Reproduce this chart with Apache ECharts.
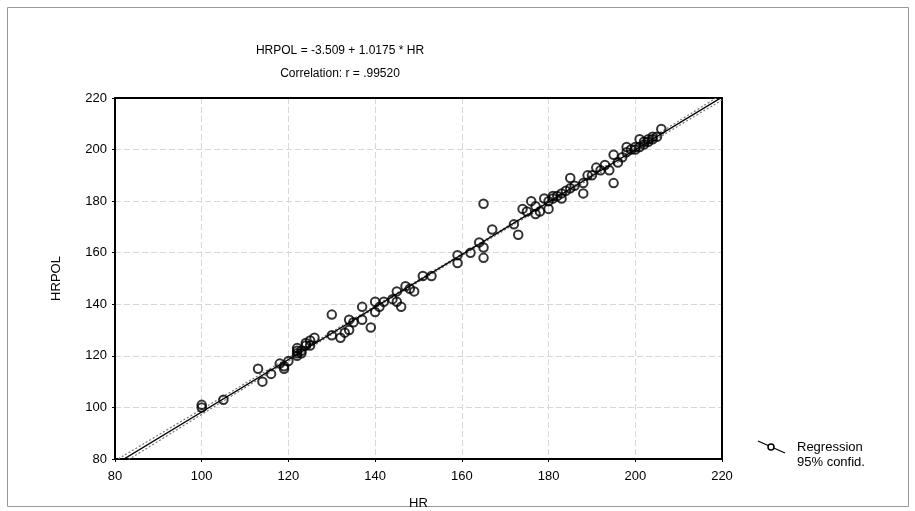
<!DOCTYPE html>
<html>
<head>
<meta charset="utf-8">
<script src="https://cdn.jsdelivr.net/npm/echarts@6/dist/echarts.min.js"></script>
<style>html,body{margin:0;padding:0;background:#fff;}#c{width:915px;height:511px;}</style>
</head>
<body>
<div id="c"></div>
<script>
var hrValues = [100,100,105,113,114,116,118,119,119,120,122,122,122,123,122,123,124,125,125,126,124,
  130,130,132,133,134,134,135,137,137,139,140,140,141,142,144,145,145,146,147,148,149,151,153,
  159,159,162,164,165,165,165,167,172,173,174,175,176,177,177,178,
  179,180,180,181,181,182,183,183,184,185,185,186,188,188,189,190,191,192,193,194,195,195,196,197,
  198,198,199,200,200,201,201,202,202,203,203,204,205,204,206];
var hrpolValues = [101,100,103,115,110,113,117,116,115,118,121,120,122,121,123,122,125,124,126,127,124,
  136,128,127,129,130,134,133,139,134,131,137,141,139,141,142,145,141,139,147,146,145,151,151,
  156,159,160,164,162,158,179,169,171,167,177,176,180,178,175,176,
  181,180,177,182,181,182,181,183,184,189,185,186,183,187,190,190,193,192,194,192,187,198,195,197,
  201,199,200,200,201,201,204,202,203,204,203,204,205,205,208];
// Regression coefficients from the title
var intercept = -3.509, slope = 1.0175;
// 95% confidence band
var bandX = [80, 100, 120, 140, 160, 180, 200, 220];
var bandUpper = [79.3, 99.3, 119.3, 139.4, 159.6, 180.0, 200.7, 221.4];
var bandLower = [76.5, 97.3, 118.0, 138.5, 158.8, 179.0, 199.2, 219.2];
var ticks = [80, 100, 120, 140, 160, 180, 200, 220];

var pts = hrValues.map(function(x, i){ return [x, hrpolValues[i]]; });
var reg = [[80, intercept + slope*80], [220, intercept + slope*220]];
var up = bandX.map(function(x,i){ return [x, bandUpper[i]]; });
var lo = bandX.map(function(x,i){ return [x, bandLower[i]]; });

var font = 'Liberation Sans, Arial, sans-serif';
var chart = echarts.init(document.getElementById('c'));
var hidden = {show: false};
chart.setOption({
  animation: false,
  backgroundColor: '#fff',
  title: [
    {text: 'HRPOL = -3.509 + 1.0175 * HR', left: 335, top: 40, textAlign: 'center',
     textStyle: {fontFamily: font, fontSize: 12, fontWeight: 'normal', color: '#000'}},
    {text: 'Correlation: r = .99520', left: 335, top: 63, textAlign: 'center',
     textStyle: {fontFamily: font, fontSize: 12, fontWeight: 'normal', color: '#000'}}
  ],
  grid: {left: 115, top: 98, right: 193, bottom: 52, outerBoundsMode: 'none', containLabel: false},
  xAxis: [{
    type: 'value', min: 80, max: 220, interval: 20,
    name: 'HR', nameLocation: 'middle', nameGap: 38,
    nameTextStyle: {fontFamily: font, fontSize: 13, color: '#000'},
    axisLine: {show: true, onZero: false, lineStyle: {color: '#000', width: 2}},
    axisTick: {show: true, inside: false, length: 3, lineStyle: {color: '#000'}},
    axisLabel: {fontFamily: font, fontSize: 13, color: '#000', margin: 11,
      formatter: function(v){ return ticks.indexOf(v) >= 0 ? String(v) : ''; }},
    splitLine: {show: true, lineStyle: {color: '#d8d8d8', type: [6, 3], width: 1}}
  }, {
    type: 'value', min: 80, max: 220, interval: 20, position: 'top',
    axisLine: {show: true, onZero: false, lineStyle: {color: '#000', width: 2}},
    axisTick: hidden, axisLabel: hidden, splitLine: hidden
  }],
  yAxis: [{
    type: 'value', min: 80, max: 220, interval: 20,
    name: 'HRPOL', nameLocation: 'middle', nameGap: 52, nameRotate: 90,
    nameTextStyle: {fontFamily: font, fontSize: 13, color: '#000'},
    axisLine: {show: true, onZero: false, lineStyle: {color: '#000', width: 2}},
    axisTick: {show: true, inside: false, length: 3, lineStyle: {color: '#000'}},
    axisLabel: {fontFamily: font, fontSize: 13, color: '#000', margin: 8},
    splitLine: {show: true, lineStyle: {color: '#d8d8d8', type: [6, 3], width: 1}}
  }, {
    type: 'value', min: 80, max: 220, interval: 20, position: 'right',
    axisLine: {show: true, onZero: false, lineStyle: {color: '#000', width: 2}},
    axisTick: hidden, axisLabel: hidden, splitLine: hidden
  }],
  series: [
    {type: 'line', data: lo, symbol: 'none', smooth: true, clip: true,
     lineStyle: {color: '#777', width: 1.2, type: [2, 2]}, z: 3},
    {type: 'line', data: up, symbol: 'none', smooth: true, clip: true,
     lineStyle: {color: '#777', width: 1.2, type: [2, 2]}, z: 3},
    {type: 'line', data: reg, symbol: 'none', clip: true,
     lineStyle: {color: '#000', width: 1.3}, z: 4},
    {type: 'scatter', data: pts, symbol: 'circle', symbolSize: 8.5,
     itemStyle: {color: 'rgba(255,255,255,0)', borderColor: '#000', borderWidth: 2}, z: 5}
  ],
  graphic: [
    {type: 'rect', shape: {x: 7.5, y: 7.5, width: 901, height: 499},
     style: {fill: 'none', stroke: '#999', lineWidth: 1}, silent: true},
    {type: 'line', shape: {x1: 758, y1: 441, x2: 785, y2: 453},
     style: {stroke: '#000', lineWidth: 1.3}},
    {type: 'circle', shape: {cx: 771, cy: 447, r: 3},
     style: {fill: '#fff', stroke: '#000', lineWidth: 1.5}},
    {type: 'text', left: 797, top: 441,
     style: {text: 'Regression', fontFamily: font, fontSize: 13, fill: '#000'}},
    {type: 'text', left: 797, top: 456,
     style: {text: '95% confid.', fontFamily: font, fontSize: 13, fill: '#000'}}
  ]
});
</script>
</body>
</html>
